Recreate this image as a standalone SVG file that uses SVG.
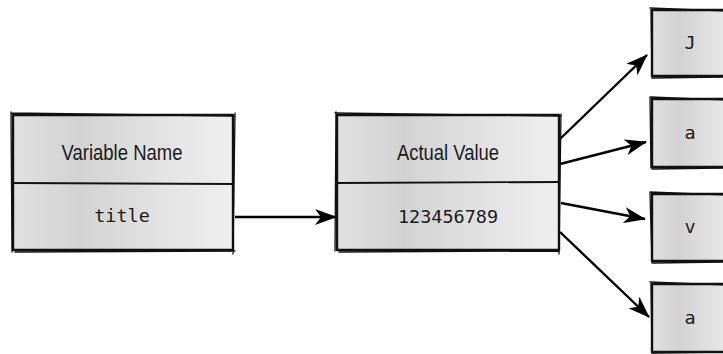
<svg xmlns="http://www.w3.org/2000/svg" width="723" height="354" viewBox="0 0 723 354">
  <style>
    .box { fill: url(#g); stroke: #111; stroke-width: 2.4; stroke-linejoin: round; }
    .sk { fill: none; stroke: #111; stroke-width: 1.3; stroke-linecap: round; }
    .div { fill: none; stroke: #111; stroke-width: 1.8; }
    .lbl { font-family: "Liberation Sans", Arial, sans-serif; font-size: 22px; fill: #1a1a1a; text-anchor: middle; }
    .mono { font-family: "DejaVu Sans Mono", "Liberation Mono", monospace; font-size: 18.5px; fill: #1a1a1a; text-anchor: middle; }
    .conn { stroke: #000; stroke-width: 2.4; fill: none; marker-end: url(#ah); }
  </style>
  <defs>
    <linearGradient id="g" x1="0" y1="0" x2="1" y2="0">
      <stop offset="0" stop-color="#e0e0e0"/>
      <stop offset="0.3" stop-color="#d2d2d2"/>
      <stop offset="0.7" stop-color="#e4e4e4"/>
      <stop offset="1" stop-color="#eeeeee"/>
    </linearGradient>
    <marker id="ah" markerUnits="userSpaceOnUse" markerWidth="22" markerHeight="16" refX="21" refY="8" orient="auto">
      <path d="M0,0 L22,8 L0,16 L6,8 z" fill="#000"/>
    </marker>
  </defs>

  <g id="connectors">
    <line class="conn" x1="235" y1="217" x2="336" y2="217"/>
    <line class="conn" x1="560" y1="139" x2="647" y2="55"/>
    <line class="conn" x1="560" y1="164" x2="646" y2="142"/>
    <line class="conn" x1="561" y1="203" x2="645" y2="219"/>
    <line class="conn" x1="560" y1="232" x2="649" y2="317"/>
  </g>

  <g id="node-variable">
    <rect class="box" x="13" y="115" width="220" height="135"/>
    <path class="sk" d="M11,113 L234,116 M15,252 L235,251 M11,112 L12,252 M235,113 L233,254"/>
    <line class="div" x1="13" y1="183" x2="233" y2="184"/>
    <text class="lbl" x="122" y="160" textLength="121" lengthAdjust="spacingAndGlyphs">Variable Name</text>
    <text class="mono" x="122" y="222">title</text>
  </g>

  <g id="node-value">
    <rect class="box" x="337" y="115" width="222" height="135"/>
    <path class="sk" d="M335,113 L560,116 M339,252 L559,251 M336,112 L335,251 M561,114 L559,254"/>
    <line class="div" x1="337" y1="183" x2="559" y2="182"/>
    <text class="lbl" x="448" y="160" textLength="102" lengthAdjust="spacingAndGlyphs">Actual Value</text>
    <text class="mono" x="448" y="223">123456789</text>
  </g>

  <g id="node-j">
    <rect class="box" x="652" y="10" width="92" height="66"/>
    <path class="sk" d="M650,8 L724,11 M652,78 L724,77 M651,8 L652,78"/>
    <text class="mono" x="690" y="49">J</text>
  </g>

  <g id="node-a1">
    <rect class="box" x="652" y="99" width="92" height="68"/>
    <path class="sk" d="M650,97 L724,100 M652,169 L724,168 M650,98 L651,168"/>
    <text class="mono" x="690" y="139">a</text>
  </g>

  <g id="node-v">
    <rect class="box" x="652" y="194" width="92" height="67"/>
    <path class="sk" d="M650,192 L724,195 M653,263 L724,262 M650,193 L652,263"/>
    <text class="mono" x="690" y="233">v</text>
  </g>

  <g id="node-a2">
    <rect class="box" x="652" y="284" width="92" height="68"/>
    <path class="sk" d="M650,282 L724,285 M653,353 L724,352 M651,283 L652,353"/>
    <text class="mono" x="690" y="324">a</text>
  </g>
</svg>
